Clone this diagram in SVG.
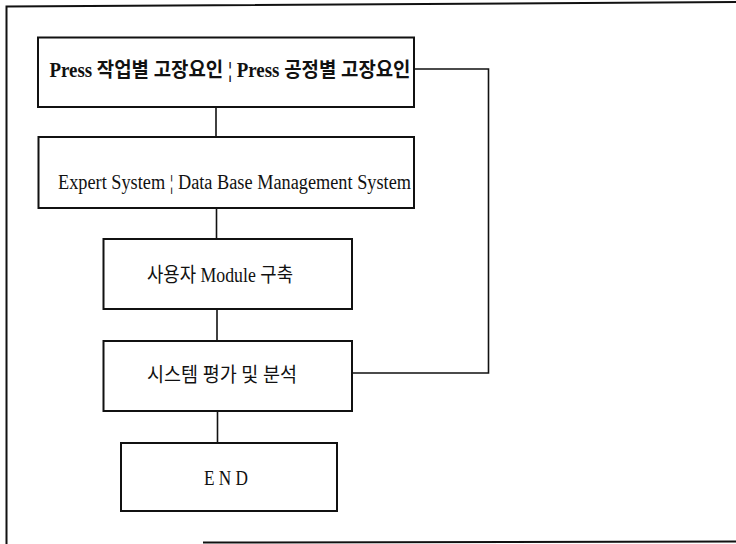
<svg xmlns="http://www.w3.org/2000/svg" width="736" height="544" viewBox="0 0 736 544">
<style>
.box{fill:#fff;stroke:#111;stroke-width:2}
.ln{fill:none;stroke:#111;stroke-width:1.6}
.frame{fill:none;stroke:#111;stroke-width:2}
.t{font-family:"Liberation Serif","Noto Sans CJK KR",serif;font-size:20px;fill:#111;text-anchor:middle;dominant-baseline:central}
.b{font-weight:bold}
</style>
<rect width="736" height="544" fill="#fff"/>
<g id="frame">
<path class="frame" d="M736 2 L6.5 6.5 L6.5 544"/>
<path class="frame" d="M203 542.5 L736 541.5"/>
</g>
<g id="connectors">
<path class="ln" d="M216 107 V137"/>
<path class="ln" d="M216.5 208 V239"/>
<path class="ln" d="M217 309 V341"/>
<path class="ln" d="M217.5 411 V443"/>
<path class="ln" d="M414 69 H488.5 V373 H352"/>
</g>
<g id="n1">
<rect class="box" x="38" y="37.5" width="376" height="69.5"/>
<text class="t b" x="230" y="70" textLength="361" lengthAdjust="spacingAndGlyphs">Press 작업별 고장요인 ¦ Press 공정별 고장요인</text>
</g>
<g id="n2">
<rect class="box" x="38.5" y="137" width="375.5" height="71"/>
<text class="t" x="234.5" y="182" textLength="353" lengthAdjust="spacingAndGlyphs">Expert System  ¦ Data Base Management System</text>
</g>
<g id="n3">
<rect class="box" x="103.5" y="239" width="248.5" height="70"/>
<text class="t" x="220" y="275" textLength="146" lengthAdjust="spacingAndGlyphs">사용자 Module 구축</text>
</g>
<g id="n4">
<rect class="box" x="103.5" y="341" width="248.5" height="70"/>
<text class="t" x="222" y="375" textLength="150" lengthAdjust="spacingAndGlyphs">시스템 평가 및 분석</text>
</g>
<g id="n5">
<rect class="box" x="121" y="443" width="216" height="68"/>
<text class="t" x="226" y="478" textLength="44" lengthAdjust="spacingAndGlyphs">E N D</text>
</g>
</svg>
